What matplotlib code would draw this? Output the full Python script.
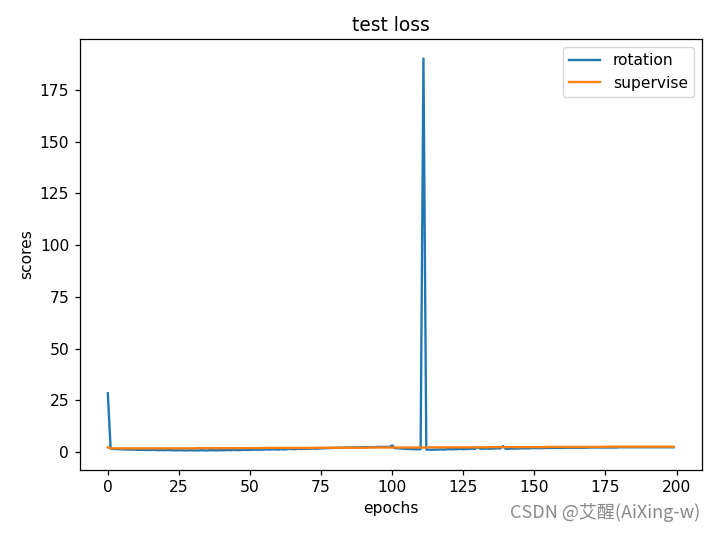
import matplotlib
matplotlib.use("Agg")
import matplotlib.pyplot as plt

rotation = [
    28.5, 1.8, 1.6, 1.5, 1.5, 1.4, 1.4, 1.3, 1.3, 1.3,
    1.2, 1.2, 1.2, 1.1, 1.1, 1.1, 1.2, 1.1, 1.0, 1.1,
    1.0, 1.1, 1.0, 1.0, 0.9, 1.0, 1.0, 0.9, 0.9, 1.0,
    0.9, 0.9, 0.9, 1.0, 0.9, 0.9, 1.0, 1.0, 0.9, 1.0,
    1.0, 1.0, 1.1, 1.0, 1.1, 1.1, 1.0, 1.1, 1.2, 1.1,
    1.2, 1.2, 1.3, 1.2, 1.3, 1.3, 1.4, 1.3, 1.4, 1.4,
    1.3, 1.5, 1.4, 1.5, 1.6, 1.5, 1.5, 1.7, 1.6, 1.6,
    1.7, 1.7, 1.8, 1.7, 1.8, 1.9, 1.9, 2.0, 2.0, 2.1,
    2.1, 2.2, 2.2, 2.2, 2.3, 2.3, 2.3, 2.4, 2.4, 2.4,
    2.4, 2.5, 2.5, 2.5, 2.5, 2.6, 2.6, 2.6, 2.6, 2.6,
    3.3, 2.0, 1.9, 1.8, 1.7, 1.6, 1.6, 1.5, 1.5, 1.4,
    1.5, 190.1, 1.3, 1.3, 1.2, 1.3, 1.3, 1.4, 1.3, 1.4,
    1.5, 1.4, 1.5, 1.5, 1.6, 1.5, 1.6, 1.6, 1.7, 1.6,
    2.4, 1.7, 1.7, 1.8, 1.7, 1.8, 1.8, 1.9, 1.8, 3.0,
    1.6, 1.7, 1.8, 1.8, 1.8, 1.9, 1.9, 1.9, 1.9, 2.0,
    2.0, 2.0, 2.0, 2.0, 2.1, 2.1, 2.1, 2.1, 2.1, 2.1,
    2.1, 2.2, 2.2, 2.2, 2.2, 2.2, 2.2, 2.2, 2.2, 2.3,
    2.3, 2.3, 2.3, 2.3, 2.3, 2.3, 2.3, 2.3, 2.3, 2.3,
    2.4, 2.4, 2.4, 2.4, 2.4, 2.4, 2.4, 2.4, 2.4, 2.4,
    2.4, 2.4, 2.4, 2.4, 2.4, 2.4, 2.4, 2.4, 2.4, 2.4,
]

supervise = [
    2.4, 1.9, 1.9, 1.9, 1.9, 1.9, 1.9, 1.9, 1.9, 1.9,
    1.9, 1.9, 1.9, 1.9, 1.9, 1.9, 1.9, 1.9, 1.9, 1.9,
    1.9, 1.9, 1.9, 1.9, 1.9, 1.9, 1.9, 1.9, 1.9, 1.9,
    1.9, 1.9, 2.0, 2.0, 2.0, 2.0, 2.0, 2.0, 2.0, 2.0,
    2.0, 2.0, 2.0, 2.0, 2.0, 2.0, 2.0, 2.0, 2.0, 2.0,
    2.0, 2.0, 2.0, 2.0, 2.0, 2.1, 2.1, 2.1, 2.1, 2.1,
    2.1, 2.1, 2.1, 2.1, 2.1, 2.1, 2.1, 2.1, 2.1, 2.1,
    2.1, 2.1, 2.1, 2.1, 2.2, 2.2, 2.2, 2.2, 2.2, 2.2,
    2.2, 2.2, 2.2, 2.2, 2.2, 2.2, 2.2, 2.2, 2.2, 2.2,
    2.2, 2.2, 2.3, 2.3, 2.3, 2.3, 2.3, 2.3, 2.3, 2.3,
    2.3, 2.3, 2.3, 2.3, 2.3, 2.3, 2.3, 2.3, 2.3, 2.3,
    2.3, 2.3, 2.3, 2.4, 2.4, 2.4, 2.4, 2.4, 2.4, 2.4,
    2.4, 2.4, 2.4, 2.4, 2.4, 2.4, 2.4, 2.4, 2.4, 2.4,
    2.4, 2.4, 2.4, 2.4, 2.5, 2.5, 2.5, 2.5, 2.5, 2.5,
    2.5, 2.5, 2.5, 2.5, 2.5, 2.5, 2.5, 2.5, 2.5, 2.5,
    2.5, 2.5, 2.5, 2.5, 2.5, 2.6, 2.6, 2.6, 2.6, 2.6,
    2.6, 2.6, 2.6, 2.6, 2.6, 2.6, 2.6, 2.6, 2.6, 2.6,
    2.6, 2.6, 2.6, 2.6, 2.6, 2.7, 2.7, 2.7, 2.7, 2.7,
    2.7, 2.7, 2.7, 2.7, 2.7, 2.7, 2.7, 2.7, 2.7, 2.7,
    2.7, 2.7, 2.7, 2.7, 2.7, 2.7, 2.7, 2.7, 2.7, 2.7,
]

epochs = list(range(len(rotation)))

s = 715 / 640
plt.rcParams.update({
    "font.size": 10 * s,
    "lines.linewidth": 1.5 * s,
    "axes.linewidth": 0.8 * s,
    "xtick.major.size": 3.5 * s,
    "ytick.major.size": 3.5 * s,
    "xtick.major.width": 0.8 * s,
    "ytick.major.width": 0.8 * s,
})

fig = plt.figure(figsize=(7.15, 5.33), dpi=100)
ax = fig.add_axes([79.5 / 715, 63 / 533, 622.5 / 715, 431 / 533])
ax.plot(epochs, rotation, label="rotation")
ax.plot(epochs, supervise, label="supervise")
ax.set_title("test loss")
ax.set_xlabel("epochs")
ax.set_ylabel("scores")
ax.legend(loc="upper right")

fig.text(700 / 715, 1 - 513 / 533, "CSDN @艾醒(AiXing-w)", ha="right", va="center",
         fontsize=13, color="#8a8a8a", family=["Noto Sans CJK SC", "DejaVu Sans"])

fig.savefig("out.png", dpi=100)
